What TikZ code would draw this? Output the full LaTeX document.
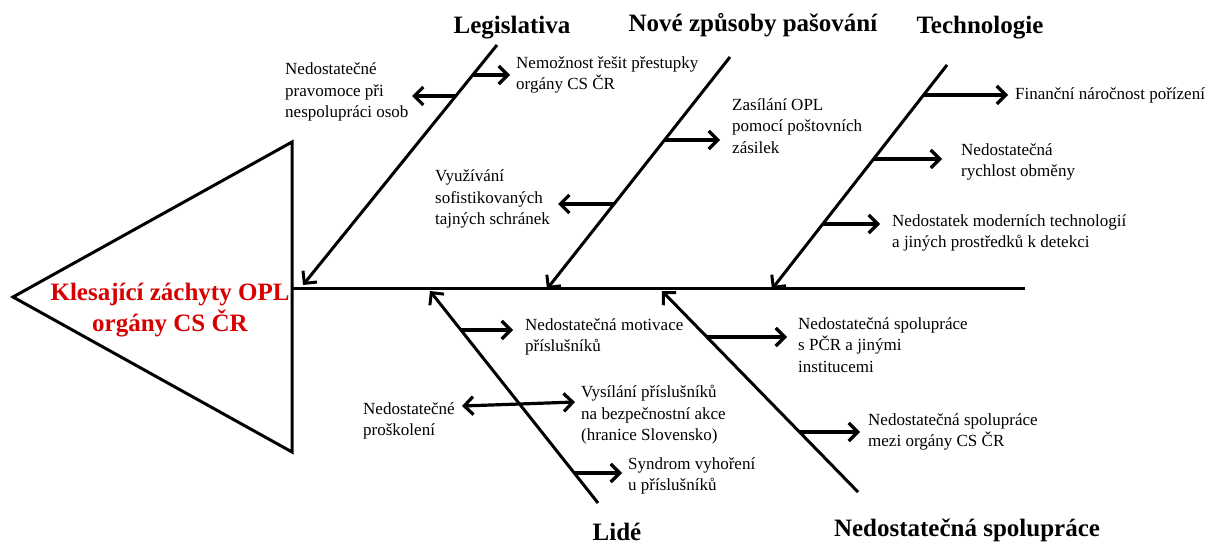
\documentclass[tikz,border=0pt]{standalone}
\usepackage{fontspec}
\setmainfont{Liberation Serif}
\usetikzlibrary{arrows.meta}
\definecolor{headred}{RGB}{215,0,0}
\begin{document}
\begin{tikzpicture}[x=1pt,y=-1pt,
  bone/.style={line width=3pt},
  bonearr/.style={line width=3pt,-{Straight Barb[length=9pt,width=18pt]}},
  branch/.style={line width=3.2pt,-{Straight Barb[length=9pt,width=18pt]}},
  txt/.style={font=\fontsize{17}{21.5}\selectfont, align=left, anchor=west, inner sep=0pt},
  ttl/.style={font=\fontsize{25}{30}\selectfont\bfseries, inner sep=0pt},
  headtxt/.style={font=\fontsize{25}{31}\selectfont\bfseries, text=headred, align=center, inner sep=0pt}
]
\fill[white] (0,0) rectangle (1218,545);
\useasboundingbox (0,0) rectangle (1218,545);

% head
\coordinate (triL) at (13,297);
\coordinate (triT) at (292,142);
\coordinate (triB) at (292,452);
\draw[bone, line join=miter] (triL) -- (triT) -- (triB) -- cycle;
\node[headtxt] (head) at (170,310) {Klesající záchyty OPL\\orgány CS ČR};
\coordinate (spS) at (292,289);
\coordinate (spE) at (1025,289);
\draw[bone] (spS) -- (spE);

% Legislativa
\node[ttl] (ttlL) at (512,28) {Legislativa};
\coordinate (L0) at (497,45);
\coordinate (L1) at (303,285);
\draw[bonearr] (L0) -- (L1);
\coordinate (La) at (473,75);
\coordinate (LaE) at (510,75);
\coordinate (Lb) at (456,96);
\coordinate (LbE) at (412,96);
\node[txt] (tLa) at (516,75) {Nemožnost řešit přestupky\\orgány CS ČR};
\node[txt] (tLb) at (285,92) {Nedostatečné\\pravomoce při\\nespolupráci osob};
\draw[branch] (La) -- (LaE);
\draw[branch] (Lb) -- (LbE);

% Nove zpusoby
\node[ttl] (ttlN) at (753,25) {Nové způsoby pašování};
\coordinate (N0) at (730,57);
\coordinate (N1) at (547,289);
\draw[bonearr] (N0) -- (N1);
\coordinate (Na) at (665,140);
\coordinate (NaE) at (720,140);
\coordinate (Nb) at (614,204);
\coordinate (NbE) at (558,204);
\node[txt] (tNa) at (732,126) {Zasílání OPL\\pomocí poštovních\\zásilek};
\node[txt] (tNb) at (435,199) {Využívání\\sofistikovaných\\tajných schránek};
\draw[branch] (Na) -- (NaE);
\draw[branch] (Nb) -- (NbE);

% Technologie
\node[ttl] (ttlT) at (980,28) {Technologie};
\coordinate (T0) at (947,65);
\coordinate (T1) at (772,289);
\draw[bonearr] (T0) -- (T1);
\coordinate (Ta) at (924,95);
\coordinate (TaE) at (1008,95);
\coordinate (Tb) at (874,159);
\coordinate (TbE) at (942,159);
\coordinate (Tc) at (823,224);
\coordinate (TcE) at (880,224);
\node[txt] (tTa) at (1015,95) {Finanční náročnost pořízení};
\node[txt] (tTb) at (961,162) {Nedostatečná\\rychlost obměny};
\node[txt] (tTc) at (892,233) {Nedostatek moderních technologií\\a jiných prostředků k detekci};
\draw[branch] (Ta) -- (TaE);
\draw[branch] (Tb) -- (TbE);
\draw[branch] (Tc) -- (TcE);

% Lide
\node[ttl] (ttlD) at (617,532) {Lidé};
\coordinate (D0) at (598,503);
\coordinate (D1) at (430,291);
\draw[bonearr] (D0) -- (D1);
\coordinate (Da) at (461,330);
\coordinate (DaE) at (513,330);
\coordinate (Db) at (520,404);
\coordinate (DbL) at (462,406);
\coordinate (DbR) at (575,402);
\coordinate (Dc) at (574,473);
\coordinate (DcE) at (622,473);
\node[txt] (tDa) at (525,337) {Nedostatečná motivace\\příslušníků};
\node[txt] (tDbL) at (363,421) {Nedostatečné\\proškolení};
\node[txt] (tDbR) at (581,415) {Vysílání příslušníků\\na bezpečnostní akce\\(hranice Slovensko)};
\node[txt] (tDc) at (628,476) {Syndrom vyhoření\\u příslušníků};
\draw[branch] (Da) -- (DaE);
\draw[branch] (Db) -- (DbL);
\draw[branch] (Db) -- (DbR);
\draw[branch] (Dc) -- (DcE);

% Nedostatecna spoluprace
\node[ttl] (ttlS) at (967,530) {Nedostatečná spolupráce};
\coordinate (S0) at (858,492);
\coordinate (S1) at (662,291);
\draw[bonearr] (S0) -- (S1);
\coordinate (Sa) at (707,337);
\coordinate (SaE) at (787,337);
\coordinate (Sb) at (800,432);
\coordinate (SbE) at (860,432);
\node[txt] (tSa) at (798,345) {Nedostatečná spolupráce\\s PČR a jinými\\institucemi};
\node[txt] (tSb) at (868,432) {Nedostatečná spolupráce\\mezi orgány CS ČR};
\draw[branch] (Sa) -- (SaE);
\draw[branch] (Sb) -- (SbE);
\end{tikzpicture}
\end{document}
